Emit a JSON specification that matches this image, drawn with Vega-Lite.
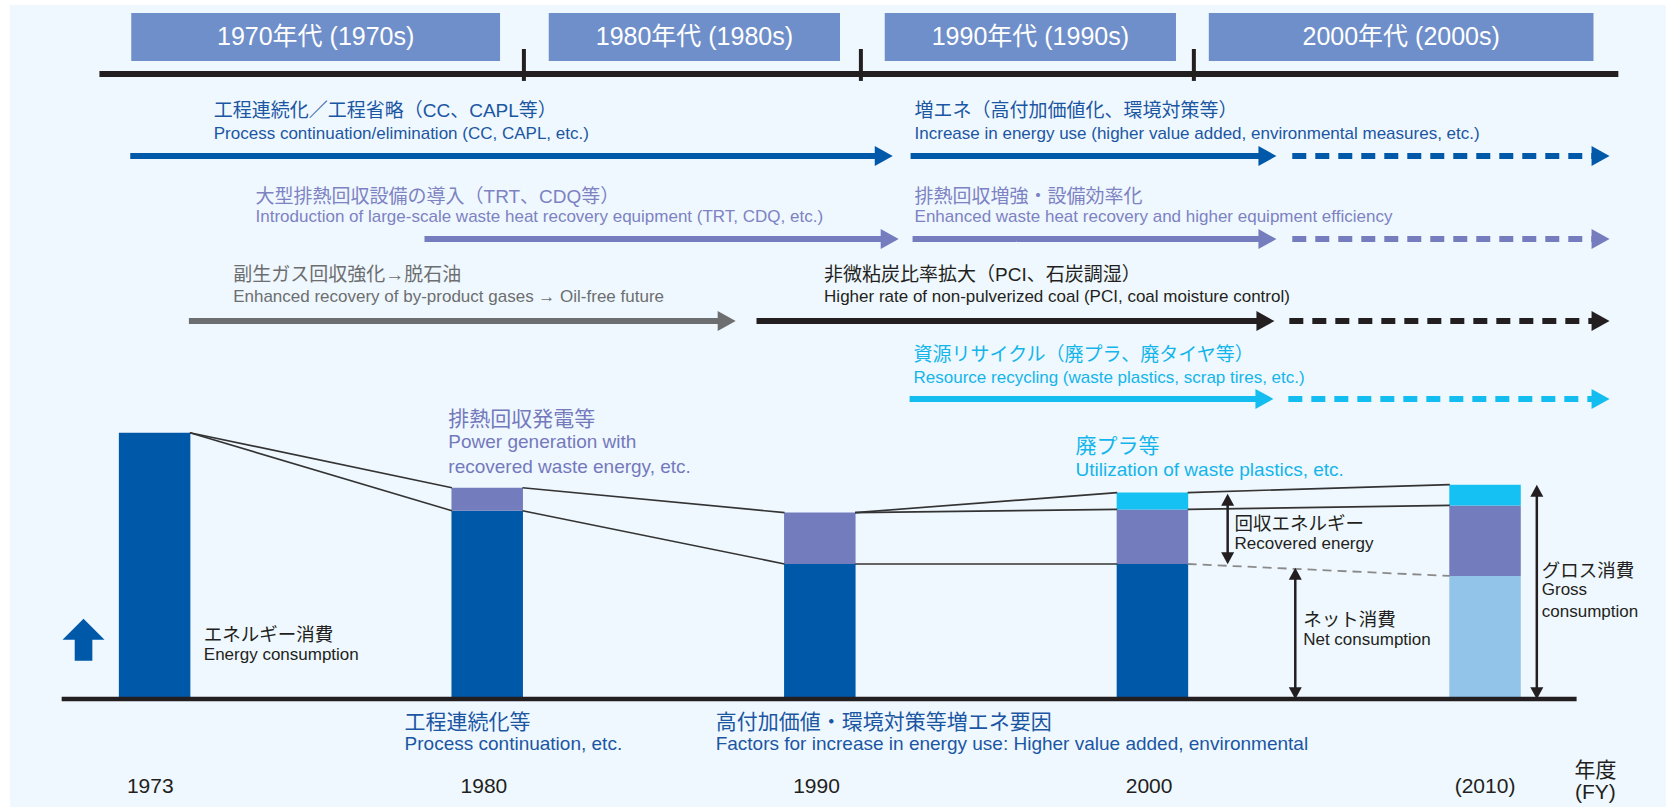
{
  "$schema": "https://vega.github.io/schema/vega-lite/v6.json",
  "width": 1671,
  "height": 807,
  "autosize": {"type": "fit", "contains": "padding"},
  "padding": 0,
  "background": "#ffffff",
  "config": {"view": {"stroke": null}, "text": {"font": "Liberation Sans, Noto Sans CJK JP, sans-serif"}},
  "resolve": {"scale": {"color": "independent", "size": "independent", "strokeDash": "independent"}},
  "datasets": {
    "header": [
      {"x": -0.0702, "x2": 1.0386, "y": 257.6, "y2": 239.6},
      {"x": 1.1850, "x2": 2.0607, "y": 257.6, "y2": 239.6},
      {"x": 2.1952, "x2": 3.0708, "y": 257.6, "y2": 239.6},
      {"x": 3.1695, "x2": 4.3261, "y": 257.6, "y2": 239.6}
    ],
    "shafts": [
      {"x": -0.0732, "x2": 2.1952, "y": 203.9, "s": "r1", "d": "solid"},
      {"x": 2.2729, "x2": 3.3488, "y": 203.9, "s": "r1", "d": "solid"},
      {"x": 3.4205, "x2": 4.3503, "y": 203.9, "s": "r1", "d": "dashed"},
      {"x": 0.8114, "x2": 2.2131, "y": 172.7, "s": "r2", "d": "solid"},
      {"x": 2.2788, "x2": 3.3488, "y": 172.7, "s": "r2", "d": "solid"},
      {"x": 3.4205, "x2": 4.3503, "y": 172.7, "s": "r2", "d": "dashed"},
      {"x": 0.1031, "x2": 1.7230, "y": 141.9, "s": "r3g", "d": "solid"},
      {"x": 1.8096, "x2": 3.3428, "y": 141.9, "s": "r3k", "d": "solid"},
      {"x": 3.4116, "x2": 4.3503, "y": 141.9, "s": "r3k", "d": "dashed"},
      {"x": 2.2699, "x2": 3.3398, "y": 112.7, "s": "r4", "d": "solid"},
      {"x": 3.4086, "x2": 4.3503, "y": 112.7, "s": "r4", "d": "dashed"}
    ],
    "bars": [
      {"slot": 0, "lo": 0, "hi": 100, "part": "net"},
      {"slot": 1, "lo": 0, "hi": 70.7, "part": "net"},
      {"slot": 1, "lo": 70.7, "hi": 79.3, "part": "recovered"},
      {"slot": 2, "lo": 0, "hi": 50.7, "part": "net"},
      {"slot": 2, "lo": 50.7, "hi": 70.0, "part": "recovered"},
      {"slot": 3, "lo": 0, "hi": 50.7, "part": "net"},
      {"slot": 3, "lo": 50.7, "hi": 71.2, "part": "recovered"},
      {"slot": 3, "lo": 71.2, "hi": 77.5, "part": "plastics"},
      {"slot": 4, "lo": 0, "hi": 46.2, "part": "net2010"},
      {"slot": 4, "lo": 46.2, "hi": 72.7, "part": "recovered"},
      {"slot": 4, "lo": 72.7, "hi": 80.5, "part": "plastics"}
    ],
    "links": [
      {"x": 0.106, "y": 100, "x2": 0.894, "y2": 79.3},
      {"x": 0.106, "y": 100, "x2": 0.894, "y2": 70.7},
      {"x": 1.106, "y": 79.3, "x2": 1.894, "y2": 70.0},
      {"x": 1.106, "y": 70.7, "x2": 1.894, "y2": 50.7},
      {"x": 2.106, "y": 70.0, "x2": 2.894, "y2": 77.5},
      {"x": 2.106, "y": 70.0, "x2": 2.894, "y2": 71.2},
      {"x": 2.106, "y": 50.7, "x2": 2.894, "y2": 50.7},
      {"x": 3.106, "y": 77.5, "x2": 3.894, "y2": 80.5},
      {"x": 3.106, "y": 71.2, "x2": 3.894, "y2": 72.7}
    ],
    "vert": [
      {"x": 3.2262, "y": 75.5, "y2": 52.2},
      {"x": 3.4295, "y": 47.7, "y2": 1.5},
      {"x": 4.1557, "y": 78.9, "y2": 1.5}
    ],
    "textsL": [
      {"t": "工程連続化／工程省略（CC、CAPL等）", "x": 0.1778, "y": 220.8, "r": "r1j"},
      {"t": "Process continuation/elimination (CC, CAPL, etc.)", "x": 0.1778, "y": 212.3, "r": "r1e"},
      {"t": "増エネ（高付加価値化、環境対策等）", "x": 2.2848, "y": 220.8, "r": "r1j"},
      {"t": "Increase in energy use (higher value added, environmental measures, etc.)", "x": 2.2848, "y": 212.3, "r": "r1e"},
      {"t": "大型排熱回収設備の導入（TRT、CDQ等）", "x": 0.3034, "y": 188.5, "r": "r2j"},
      {"t": "Introduction of large-scale waste heat recovery equipment (TRT, CDQ, etc.)", "x": 0.3034, "y": 181.0, "r": "r2e"},
      {"t": "排熱回収増強・設備効率化", "x": 2.2848, "y": 188.5, "r": "r2j"},
      {"t": "Enhanced waste heat recovery and higher equipment efficiency", "x": 2.2848, "y": 181.0, "r": "r2e"},
      {"t": "副生ガス回収強化→脱石油", "x": 0.2361, "y": 159.2, "r": "r3gj"},
      {"t": "Enhanced recovery of by-product gases → Oil-free future", "x": 0.2361, "y": 151.0, "r": "r3ge"},
      {"t": "非微粘炭比率拡大（PCI、石炭調湿）", "x": 2.0128, "y": 159.2, "r": "r3kj"},
      {"t": "Higher rate of non-pulverized coal (PCI, coal moisture control)", "x": 2.0128, "y": 151.0, "r": "r3ke"},
      {"t": "資源リサイクル（廃プラ、廃タイヤ等）", "x": 2.2818, "y": 129.2, "r": "r4j"},
      {"t": "Resource recycling (waste plastics, scrap tires, etc.)", "x": 2.2818, "y": 120.5, "r": "r4e"},
      {"t": "排熱回収発電等", "x": 0.8831, "y": 104.8, "r": "pj"},
      {"t": "Power generation with", "x": 0.8831, "y": 96.5, "r": "pe"},
      {"t": "recovered waste energy, etc.", "x": 0.8831, "y": 87.1, "r": "pe"},
      {"t": "廃プラ等", "x": 2.7690, "y": 94.6, "r": "cj"},
      {"t": "Utilization of waste plastics, etc.", "x": 2.7690, "y": 86.0, "r": "ce"},
      {"t": "エネルギー消費", "x": 0.1479, "y": 24.0, "r": "kj"},
      {"t": "Energy consumption", "x": 0.1479, "y": 16.5, "r": "ke"},
      {"t": "回収エネルギー", "x": 3.2470, "y": 65.7, "r": "kj"},
      {"t": "Recovered energy", "x": 3.2470, "y": 58.2, "r": "ke"},
      {"t": "ネット消費", "x": 3.4533, "y": 29.7, "r": "kj"},
      {"t": "Net consumption", "x": 3.4533, "y": 22.2, "r": "ke"},
      {"t": "グロス消費", "x": 4.1706, "y": 48.1, "r": "kj"},
      {"t": "Gross", "x": 4.1706, "y": 40.9, "r": "ke"},
      {"t": "consumption", "x": 4.1706, "y": 32.7, "r": "ke"},
      {"t": "工程連続化等", "x": 0.7516, "y": -9.0, "r": "bj"},
      {"t": "Process continuation, etc.", "x": 0.7516, "y": -16.9, "r": "be"},
      {"t": "高付加価値・環境対策等増エネ要因", "x": 1.6868, "y": -9.0, "r": "bj"},
      {"t": "Factors for increase in energy use: Higher value added, environmental", "x": 1.6868, "y": -16.9, "r": "be"}
    ],
    "textsC": [
      {"t": "1970年代 (1970s)", "x": 0.4842, "y": 248.6, "r": "hdr"},
      {"t": "1980年代 (1980s)", "x": 1.6229, "y": 248.6, "r": "hdr"},
      {"t": "1990年代 (1990s)", "x": 2.6330, "y": 248.6, "r": "hdr"},
      {"t": "2000年代 (2000s)", "x": 3.7478, "y": 248.6, "r": "hdr"},
      {"t": "1973", "x": -0.013, "y": -33.0, "r": "yr"},
      {"t": "1980", "x": 0.99, "y": -33.0, "r": "yr"},
      {"t": "1990", "x": 1.99, "y": -33.0, "r": "yr"},
      {"t": "2000", "x": 2.99, "y": -33.0, "r": "yr"},
      {"t": "(2010)", "x": 4.0, "y": -33.0, "r": "yr"},
      {"t": "年度", "x": 4.3318, "y": -27.0, "r": "yr"},
      {"t": "(FY)", "x": 4.3318, "y": -35.3, "r": "yr"}
    ]
  },
  "layer": [
    {
      "data": {"values": [{"x": -0.4349, "x2": 4.5441, "y": 260.6, "y2": -40.56}]},
      "mark": {"type": "rect", "color": "#eff8fe"},
      "encoding": {
        "x": {"field": "x", "type": "quantitative", "scale": {"domain": [-0.4498, 4.5441], "nice": false, "zero": false}, "axis": null},
        "x2": {"field": "x2"},
        "y": {"field": "y", "type": "quantitative", "scale": {"domain": [-40.56, 262.49], "nice": false, "zero": false}, "axis": null},
        "y2": {"field": "y2"}
      }
    },
    {
      "data": {"name": "header"},
      "mark": {"type": "rect", "color": "#6f8fca"},
      "encoding": {
        "x": {"field": "x", "type": "quantitative", "scale": {"domain": [-0.4498, 4.5441], "nice": false, "zero": false}, "axis": null},
        "x2": {"field": "x2"},
        "y": {"field": "y", "type": "quantitative", "scale": {"domain": [-40.56, 262.49], "nice": false, "zero": false}, "axis": null},
        "y2": {"field": "y2"}
      }
    },
    {
      "data": {"values": [{"x": -0.1659, "x2": 4.4008, "y": 234.7}]},
      "mark": {"type": "rule", "color": "#231f20", "strokeWidth": 6},
      "encoding": {
        "x": {"field": "x", "type": "quantitative", "scale": {"domain": [-0.4498, 4.5441], "nice": false, "zero": false}, "axis": null},
        "x2": {"field": "x2"},
        "y": {"field": "y", "type": "quantitative", "scale": {"domain": [-40.56, 262.49], "nice": false, "zero": false}, "axis": null}
      }
    },
    {
      "data": {"values": [{"x": 1.1103, "y": 244.1, "y2": 232.1}, {"x": 2.1235, "y": 244.1, "y2": 232.1}, {"x": 3.1246, "y": 244.1, "y2": 232.1}]},
      "mark": {"type": "rule", "color": "#231f20", "strokeWidth": 4},
      "encoding": {
        "x": {"field": "x", "type": "quantitative", "scale": {"domain": [-0.4498, 4.5441], "nice": false, "zero": false}, "axis": null},
        "y": {"field": "y", "type": "quantitative", "scale": {"domain": [-40.56, 262.49], "nice": false, "zero": false}, "axis": null},
        "y2": {"field": "y2"}
      }
    },
    {
      "data": {"name": "shafts"},
      "mark": {"type": "rule", "strokeWidth": 6, "strokeCap": "butt"},
      "encoding": {
        "x": {"field": "x", "type": "quantitative", "scale": {"domain": [-0.4498, 4.5441], "nice": false, "zero": false}, "axis": null},
        "x2": {"field": "x2"},
        "y": {"field": "y", "type": "quantitative", "scale": {"domain": [-40.56, 262.49], "nice": false, "zero": false}, "axis": null},
        "color": {"field": "s", "type": "nominal", "scale": {"domain": ["r1", "r2", "r3g", "r3k", "r4"], "range": ["#0058a9", "#767dbf", "#6d6e70", "#231f20", "#13bdf0"]}, "legend": null},
        "strokeDash": {"field": "d", "type": "nominal", "scale": {"domain": ["solid", "dashed"], "range": [[1, 0], [14, 9]]}, "legend": null}
      }
    },
    {
      "data": {"name": "shafts"},
      "mark": {"type": "point", "shape": "M-1,-1L0.8,0L-1,1Z", "size": 400, "filled": true, "opacity": 1, "strokeWidth": 0},
      "encoding": {
        "x": {"field": "x2", "type": "quantitative", "scale": {"domain": [-0.4498, 4.5441], "nice": false, "zero": false}, "axis": null},
        "y": {"field": "y", "type": "quantitative", "scale": {"domain": [-40.56, 262.49], "nice": false, "zero": false}, "axis": null},
        "color": {"field": "s", "type": "nominal", "scale": {"domain": ["r1", "r2", "r3g", "r3k", "r4"], "range": ["#0058a9", "#767dbf", "#6d6e70", "#231f20", "#13bdf0"]}, "legend": null}
      }
    },
    {
      "data": {"name": "bars"},
      "mark": {"type": "bar", "width": 71.5},
      "encoding": {
        "x": {"field": "slot", "type": "quantitative", "scale": {"domain": [-0.4498, 4.5441], "nice": false, "zero": false}, "axis": null},
        "y": {"field": "lo", "type": "quantitative", "scale": {"domain": [-40.56, 262.49], "nice": false, "zero": false}, "axis": null},
        "y2": {"field": "hi"},
        "color": {"field": "part", "type": "nominal", "scale": {"domain": ["net", "recovered", "plastics", "net2010"], "range": ["#0058a9", "#737cbd", "#14c1f2", "#92c4ea"]}, "legend": null}
      }
    },
    {
      "data": {"name": "links"},
      "mark": {"type": "rule", "color": "#333333", "strokeWidth": 1.6},
      "encoding": {
        "x": {"field": "x", "type": "quantitative", "scale": {"domain": [-0.4498, 4.5441], "nice": false, "zero": false}, "axis": null},
        "x2": {"field": "x2"},
        "y": {"field": "y", "type": "quantitative", "scale": {"domain": [-40.56, 262.49], "nice": false, "zero": false}, "axis": null},
        "y2": {"field": "y2"}
      }
    },
    {
      "data": {"values": [{"x": 3.106, "y": 50.7, "x2": 3.894, "y2": 46.2}]},
      "mark": {"type": "rule", "color": "#8a8a8a", "strokeWidth": 1.8, "strokeDash": [9, 6]},
      "encoding": {
        "x": {"field": "x", "type": "quantitative", "scale": {"domain": [-0.4498, 4.5441], "nice": false, "zero": false}, "axis": null},
        "x2": {"field": "x2"},
        "y": {"field": "y", "type": "quantitative", "scale": {"domain": [-40.56, 262.49], "nice": false, "zero": false}, "axis": null},
        "y2": {"field": "y2"}
      }
    },
    {
      "data": {"values": [{"x": -0.2794, "x2": 4.2753, "y": 0}]},
      "mark": {"type": "rule", "color": "#231f20", "strokeWidth": 4.5},
      "encoding": {
        "x": {"field": "x", "type": "quantitative", "scale": {"domain": [-0.4498, 4.5441], "nice": false, "zero": false}, "axis": null},
        "x2": {"field": "x2"},
        "y": {"field": "y", "type": "quantitative", "scale": {"domain": [-40.56, 262.49], "nice": false, "zero": false}, "axis": null}
      }
    },
    {
      "data": {"name": "vert"},
      "mark": {"type": "rule", "color": "#231f20", "strokeWidth": 2.5},
      "encoding": {
        "x": {"field": "x", "type": "quantitative", "scale": {"domain": [-0.4498, 4.5441], "nice": false, "zero": false}, "axis": null},
        "y": {"field": "y", "type": "quantitative", "scale": {"domain": [-40.56, 262.49], "nice": false, "zero": false}, "axis": null},
        "y2": {"field": "y2"}
      }
    },
    {
      "data": {"name": "vert"},
      "mark": {"type": "point", "shape": "M-1,1.2L0,-0.65L1,1.2Z", "size": 169, "filled": true, "opacity": 1, "strokeWidth": 0, "color": "#231f20"},
      "encoding": {
        "x": {"field": "x", "type": "quantitative", "scale": {"domain": [-0.4498, 4.5441], "nice": false, "zero": false}, "axis": null},
        "y": {"field": "y", "type": "quantitative", "scale": {"domain": [-40.56, 262.49], "nice": false, "zero": false}, "axis": null}
      }
    },
    {
      "data": {"name": "vert"},
      "mark": {"type": "point", "shape": "M-1,-1.2L0,0.65L1,-1.2Z", "size": 169, "filled": true, "opacity": 1, "strokeWidth": 0, "color": "#231f20"},
      "encoding": {
        "x": {"field": "x", "type": "quantitative", "scale": {"domain": [-0.4498, 4.5441], "nice": false, "zero": false}, "axis": null},
        "y": {"field": "y2", "type": "quantitative", "scale": {"domain": [-40.56, 262.49], "nice": false, "zero": false}, "axis": null}
      }
    },
    {
      "data": {"values": [{"x": -0.2137, "y": 22.2}]},
      "mark": {"type": "point", "shape": "M0,-1L1,0L0.42,0L0.42,1L-0.42,1L-0.42,0L-1,0Z", "size": 1764, "filled": true, "opacity": 1, "strokeWidth": 0, "color": "#0058a9"},
      "encoding": {
        "x": {"field": "x", "type": "quantitative", "scale": {"domain": [-0.4498, 4.5441], "nice": false, "zero": false}, "axis": null},
        "y": {"field": "y", "type": "quantitative", "scale": {"domain": [-40.56, 262.49], "nice": false, "zero": false}, "axis": null}
      }
    },
    {
      "data": {"name": "textsL"},
      "mark": {"type": "text", "align": "left", "baseline": "middle"},
      "encoding": {
        "x": {"field": "x", "type": "quantitative", "scale": {"domain": [-0.4498, 4.5441], "nice": false, "zero": false}, "axis": null},
        "y": {"field": "y", "type": "quantitative", "scale": {"domain": [-40.56, 262.49], "nice": false, "zero": false}, "axis": null},
        "text": {"field": "t"},
        "color": {"field": "r", "type": "nominal", "scale": {"domain": ["r1j", "r1e", "r2j", "r2e", "r3gj", "r3ge", "r3kj", "r3ke", "r4j", "r4e", "pj", "pe", "cj", "ce", "kj", "ke", "bj", "be"], "range": ["#1b56a3", "#1b56a3", "#7d82c3", "#7d82c3", "#6d6e70", "#6d6e70", "#231f20", "#231f20", "#14b5ea", "#14b5ea", "#7479bd", "#7479bd", "#14b5ea", "#14b5ea", "#231f20", "#231f20", "#1b56a3", "#1b56a3"]}, "legend": null},
        "size": {"field": "r", "type": "nominal", "scale": {"type": "ordinal", "domain": ["r1j", "r1e", "r2j", "r2e", "r3gj", "r3ge", "r3kj", "r3ke", "r4j", "r4e", "pj", "pe", "cj", "ce", "kj", "ke", "bj", "be"], "range": [19, 17, 19, 17, 19, 17, 19, 17, 19, 17, 21, 19, 21, 19, 18.5, 17, 21, 19]}, "legend": null}
      }
    },
    {
      "data": {"name": "textsC"},
      "mark": {"type": "text", "align": "center", "baseline": "middle"},
      "encoding": {
        "x": {"field": "x", "type": "quantitative", "scale": {"domain": [-0.4498, 4.5441], "nice": false, "zero": false}, "axis": null},
        "y": {"field": "y", "type": "quantitative", "scale": {"domain": [-40.56, 262.49], "nice": false, "zero": false}, "axis": null},
        "text": {"field": "t"},
        "color": {"field": "r", "type": "nominal", "scale": {"domain": ["hdr", "yr"], "range": ["#ffffff", "#231f20"]}, "legend": null},
        "size": {"field": "r", "type": "nominal", "scale": {"type": "ordinal", "domain": ["hdr", "yr"], "range": [25, 21]}, "legend": null}
      }
    }
  ]
}
